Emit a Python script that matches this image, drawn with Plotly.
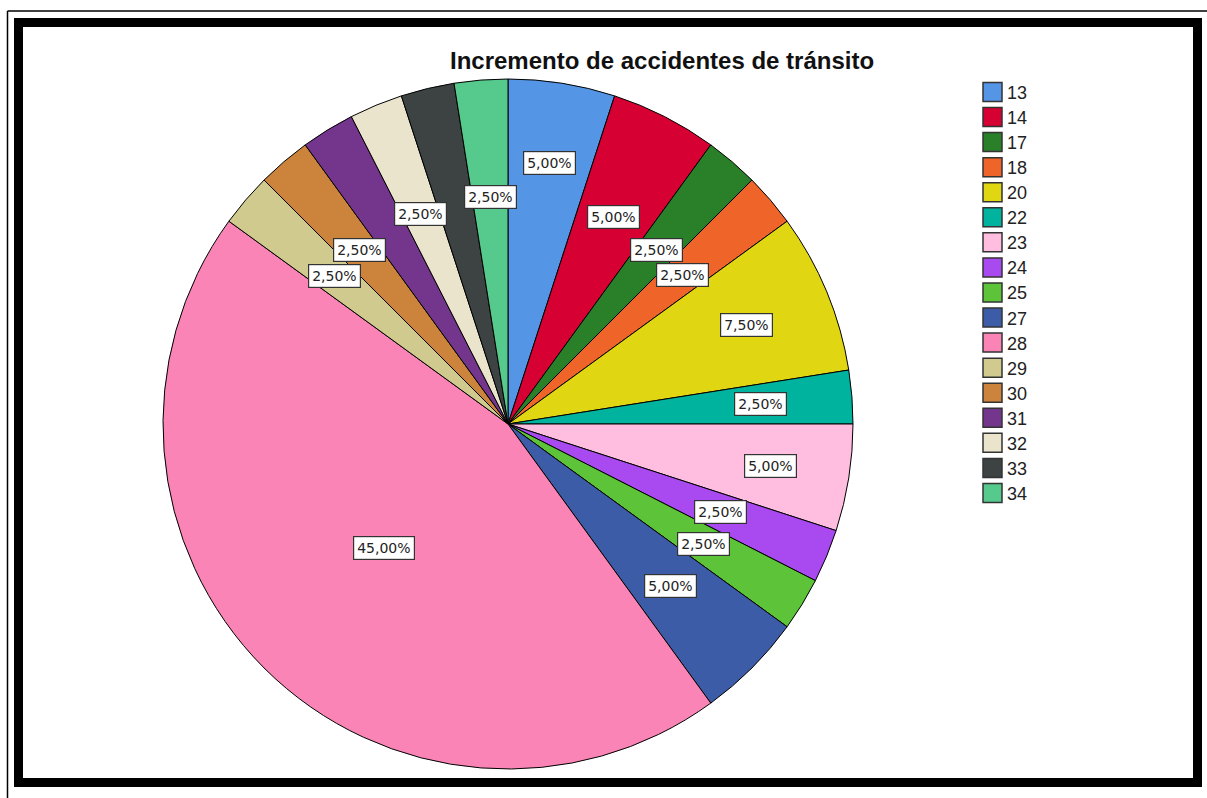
import math
import plotly.graph_objects as go

# ---- data ----
categories = ["13", "14", "17", "18", "20", "22", "23", "24", "25", "27",
              "28", "29", "30", "31", "32", "33", "34"]
percentages = [5.0, 5.0, 2.5, 2.5, 7.5, 2.5, 5.0, 2.5, 2.5, 5.0,
               45.0, 2.5, 2.5, 2.5, 2.5, 2.5, 2.5]
colors = ["#5595E5", "#D60032", "#2A8029", "#EF6428", "#E0D712", "#00B39E",
          "#FFBDE0", "#A94AF0", "#5DC43A", "#3D5CA8", "#F984B5", "#D1CA8E",
          "#CC843C", "#74368D", "#EBE4CD", "#3D4343", "#56C98C"]
title_text = "Incremento de accidentes de tránsito"

# label placement (fraction of radius; None = label hidden by overlap)
label_radius = [0.767, 0.673, 0.664, 0.664, 0.749, 0.735, 0.771, 0.666, 0.665,
                0.666, 0.51, 0.662, 0.662, None, 0.66, None, 0.66]

W, H = 1207, 798
CX, CY, R = 508, 424, 345


def px(x):
    return x / W


def py(y):
    return 1 - y / H


fig = go.Figure()
fig.add_trace(go.Pie(
    labels=categories,
    values=percentages,
    sort=False,
    direction="clockwise",
    rotation=0,
    marker=dict(colors=colors, line=dict(color="#000000", width=1)),
    textinfo="none",
    hoverinfo="label+percent",
    showlegend=False,
    domain=dict(x=[px(CX - R), px(CX + R)], y=[py(CY + R), py(CY - R)]),
))

annotations = []
# percentage labels, positioned from the cumulative values
total = sum(percentages)
cum = 0.0
for val, frac in zip(percentages, label_radius):
    mid = (cum + val / 2) / total * 2 * math.pi
    cum += val
    if frac is None:
        continue
    lx = CX + frac * R * math.sin(mid)
    ly = CY - frac * R * math.cos(mid)
    txt = f"{val:.2f}%".replace(".", ",")
    annotations.append(dict(
        x=px(lx), y=py(ly), xref="paper", yref="paper",
        text=txt, showarrow=False, xanchor="center", yanchor="middle",
        font=dict(family="DejaVu Sans", size=14, color="#222222"),
        bgcolor="#FFFFFF", bordercolor="#333333", borderwidth=1.2, borderpad=3,
    ))

# title
annotations.append(dict(
    x=px(662), y=py(61), xref="paper", yref="paper",
    text=f"<b>{title_text}</b>", showarrow=False,
    xanchor="center", yanchor="middle",
    font=dict(family="Liberation Sans, Arial", size=24, color="#111111"),
))

shapes = []
# legend (manual, to match the large swatches)
LX0, LX1, LY0, STEP = 983, 1002, 92, 25.06
for i, (cat, col) in enumerate(zip(categories, colors)):
    yc = LY0 + i * STEP
    shapes.append(dict(
        type="rect", xref="paper", yref="paper",
        x0=px(LX0), x1=px(LX1), y0=py(yc + 9.5), y1=py(yc - 9.5),
        fillcolor=col, line=dict(color="#333333", width=1.5),
    ))
    annotations.append(dict(
        x=px(1005), y=py(yc + 1), xref="paper", yref="paper",
        text=cat, showarrow=False, xanchor="left", yanchor="middle",
        font=dict(family="Liberation Sans, Arial", size=18, color="#222222"),
    ))

# frame: thin outer lines and thick black border
shapes.append(dict(type="line", xref="paper", yref="paper",
                   x0=px(7.5), x1=px(7.5), y0=0, y1=py(11),
                   line=dict(color="#000000", width=1.5)))
shapes.append(dict(type="line", xref="paper", yref="paper",
                   x0=px(7.5), x1=1, y0=py(11), y1=py(11),
                   line=dict(color="#000000", width=1.5)))
shapes.append(dict(type="rect", xref="paper", yref="paper",
                   x0=px(18.5), x1=px(1197.5), y0=py(782.5), y1=py(22.5),
                   line=dict(color="#000000", width=9)))

fig.update_layout(
    width=W, height=H,
    margin=dict(l=0, r=0, t=0, b=0),
    paper_bgcolor="#FFFFFF",
    plot_bgcolor="#FFFFFF",
    showlegend=False,
    annotations=annotations,
    shapes=shapes,
)

fig.write_html(
    "out.html",
    config={"displayModeBar": False},
    post_script="document.body.style.margin='0';document.body.style.overflow='hidden';",
)
